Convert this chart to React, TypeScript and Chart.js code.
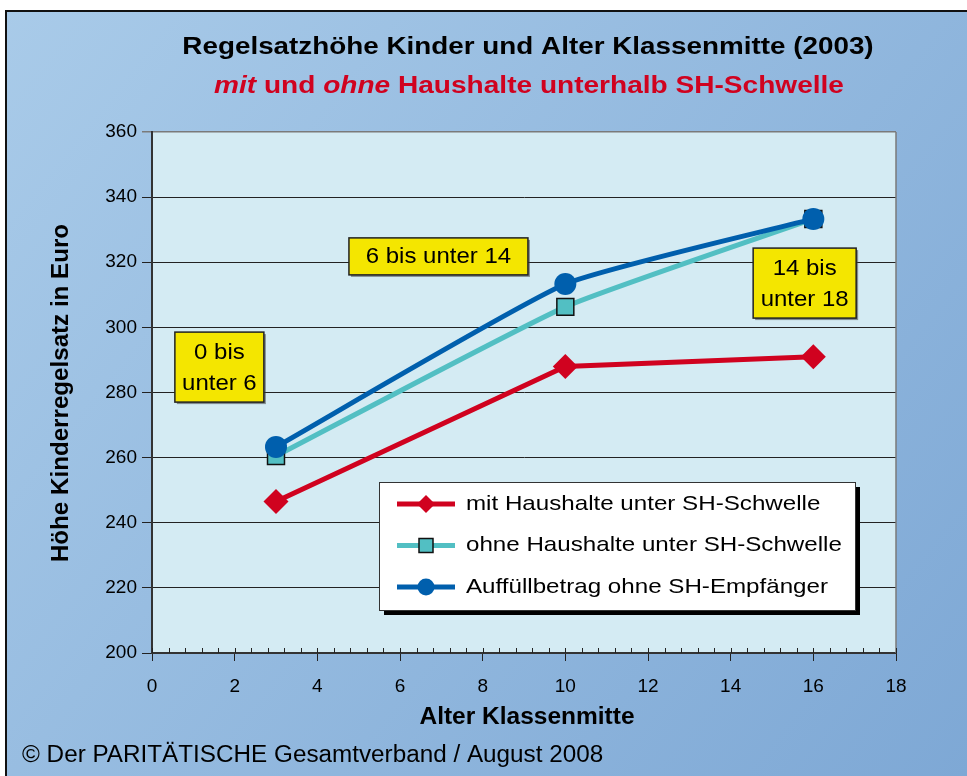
import React, { useEffect, useRef } from "react";
import { Chart, registerables } from "chart.js";

Chart.register(...registerables);

const xValues = [3, 10, 16];
const mitHaushalte = [246.5, 288.0, 291.0];
const ohneHaushalte = [260.5, 306.3, 333.3];
const auffuellbetrag = [263.3, 313.3, 333.3];

const seriesLabels = [
  "mit Haushalte unter SH-Schwelle",
  "ohne Haushalte unter SH-Schwelle",
  "Auffüllbetrag ohne SH-Empfänger",
];

const ageBoxes = [
  { lines: ["0 bis", "unter 6"], x: 1.63, y: 287.8, w: 89, h: 70 },
  { lines: ["6 bis unter 14"], x: 6.93, y: 321.8, w: 179, h: 37 },
  { lines: ["14 bis", "unter 18"], x: 15.79, y: 313.6, w: 103, h: 70 },
];

const FONT = '"Liberation Sans", Arial, sans-serif';
const RED = "#d0021f";
const TEAL = "#52bfc3";
const BLUE = "#005fad";

function sText(ctx: CanvasRenderingContext2D, text: string, x: number, y: number, font: string, sx: number, align: CanvasTextAlign) {
  ctx.save();
  ctx.font = font;
  ctx.translate(x, y);
  ctx.scale(sx, 1);
  ctx.textAlign = align;
  ctx.fillText(text, 0, 0);
  ctx.restore();
}

function drawMarker(ctx: CanvasRenderingContext2D, kind: string, x: number, y: number, r: number, fill: string) {
  ctx.save();
  ctx.beginPath();
  if (kind === "diamond") {
    ctx.moveTo(x - r, y);
    ctx.lineTo(x, y - r);
    ctx.lineTo(x + r, y);
    ctx.lineTo(x, y + r);
    ctx.closePath();
    ctx.fillStyle = fill;
    ctx.fill();
  } else if (kind === "square") {
    ctx.rect(x - r, y - r, 2 * r, 2 * r);
    ctx.fillStyle = fill;
    ctx.fill();
    ctx.lineWidth = 1.5;
    ctx.strokeStyle = "#111";
    ctx.stroke();
  } else {
    ctx.arc(x, y, r, 0, Math.PI * 2);
    ctx.fillStyle = fill;
    ctx.fill();
  }
  ctx.restore();
}

const decorPlugin = {
  id: "decor",
  beforeDraw(chart: any) {
    const { ctx, chartArea } = chart;
    const W = chart.width;
    const H = chart.height;
    ctx.save();
    ctx.fillStyle = "#ffffff";
    ctx.fillRect(0, 0, W, H);
    const g = ctx.createLinearGradient(0, 0, W, H);
    g.addColorStop(0, "#a9cbe9");
    g.addColorStop(1, "#7ea8d5");
    ctx.fillStyle = g;
    ctx.fillRect(6, 11, W - 6, H - 11);
    ctx.strokeStyle = "#111";
    ctx.lineWidth = 2;
    ctx.beginPath();
    ctx.moveTo(6, H);
    ctx.lineTo(6, 11);
    ctx.lineTo(W, 11);
    ctx.stroke();
    ctx.fillStyle = "#d4ebf3";
    ctx.fillRect(chartArea.left, chartArea.top, chartArea.right - chartArea.left, chartArea.bottom - chartArea.top);
    ctx.restore();
  },
  beforeDatasetsDraw(chart: any) {
    const { ctx, chartArea } = chart;
    const xs = chart.scales.x;
    ctx.save();
    ctx.strokeStyle = "#7a7a7a";
    ctx.lineWidth = 1.5;
    ctx.beginPath();
    ctx.moveTo(chartArea.right, chartArea.top);
    ctx.lineTo(chartArea.right, chartArea.bottom);
    ctx.stroke();
    ctx.strokeStyle = "#222";
    ctx.lineWidth = 1;
    ctx.beginPath();
    for (let k = 0; k <= 45; k++) {
      const px = Math.round(xs.getPixelForValue(k * 0.4)) + 0.5;
      ctx.moveTo(px, chartArea.bottom);
      ctx.lineTo(px, chartArea.bottom - 5);
    }
    ctx.stroke();
    ctx.restore();
  },
  afterDraw(chart: any) {
    const { ctx, chartArea } = chart;
    const xs = chart.scales.x;
    const ys = chart.scales.y;
    ctx.save();
    ctx.textBaseline = "middle";
    ctx.fillStyle = "#000";
    sText(ctx, "Regelsatzhöhe Kinder und Alter Klassenmitte (2003)", 528, 48, `bold 23px ${FONT}`, 1.21, "center");
    const parts = [
      { t: "mit", f: `italic bold 23px ${FONT}` },
      { t: " und ", f: `bold 23px ${FONT}` },
      { t: "ohne", f: `italic bold 23px ${FONT}` },
      { t: " Haushalte unterhalb SH-Schwelle", f: `bold 23px ${FONT}` },
    ];
    const subSx = 1.22;
    let total = 0;
    for (const p of parts) {
      ctx.font = p.f;
      total += ctx.measureText(p.t).width * subSx;
    }
    let cx = 529 - total / 2;
    ctx.fillStyle = "#d0021f";
    for (const p of parts) {
      sText(ctx, p.t, cx, 87, p.f, subSx, "left");
      ctx.font = p.f;
      cx += ctx.measureText(p.t).width * subSx;
    }
    ctx.fillStyle = "#000";
    sText(ctx, "Alter Klassenmitte", (chartArea.left + chartArea.right) / 2 + 3, 718, `bold 23px ${FONT}`, 1.065, "center");
    ctx.save();
    ctx.translate(62, 393);
    ctx.rotate(-Math.PI / 2);
    sText(ctx, "Höhe Kinderregelsatz in Euro", 0, 0, `bold 23px ${FONT}`, 1.05, "center");
    ctx.restore();
    sText(ctx, "© Der PARITÄTISCHE Gesamtverband / August 2008", 22, 756, `23px ${FONT}`, 1.055, "left");

    for (const b of ageBoxes) {
      const bx = xs.getPixelForValue(b.x);
      const by = ys.getPixelForValue(b.y);
      const l = bx - b.w / 2;
      const t = by - b.h / 2;
      ctx.fillStyle = "rgba(60,60,60,0.55)";
      ctx.fillRect(l + 2, t + 2, b.w, b.h);
      ctx.fillStyle = "#f4e600";
      ctx.fillRect(l, t, b.w, b.h);
      ctx.strokeStyle = "#222";
      ctx.lineWidth = 1.5;
      ctx.strokeRect(l, t, b.w, b.h);
      ctx.fillStyle = "#000";
      const n = b.lines.length;
      b.lines.forEach((ln, i) => {
        sText(ctx, ln, bx, by + (i - (n - 1) / 2) * 31 + 1, `22px ${FONT}`, 1.09, "center");
      });
    }

    const lx = 379, ly = 482, lw = 476, lh = 128;
    ctx.fillStyle = "#000";
    ctx.fillRect(lx + 5, ly + 5, lw, lh);
    ctx.fillStyle = "#fff";
    ctx.fillRect(lx, ly, lw, lh);
    ctx.strokeStyle = "#333";
    ctx.lineWidth = 1;
    ctx.strokeRect(lx + 0.5, ly + 0.5, lw, lh);
    const colors = [RED, TEAL, BLUE];
    const kinds = ["diamond", "square", "circle"];
    const radii = [9, 7, 8.5];
    seriesLabels.forEach((lab, i) => {
      const yy = ly + 22 + i * 41.5;
      ctx.strokeStyle = colors[i];
      ctx.lineWidth = 5;
      ctx.beginPath();
      ctx.moveTo(397, yy);
      ctx.lineTo(455, yy);
      ctx.stroke();
      drawMarker(ctx, kinds[i], 426, yy, radii[i], colors[i]);
      ctx.fillStyle = "#000";
      sText(ctx, lab, 466, yy, `21px ${FONT}`, 1.15, "left");
    });
    ctx.restore();
  },
};

export default function App() {
  const ref = useRef<HTMLCanvasElement | null>(null);
  useEffect(() => {
    document.body.style.margin = "0";
    const canvas = ref.current!;
    const mk = (arr: number[]) => xValues.map((x, i) => ({ x, y: arr[i] }));
    const chart = new Chart(canvas, {
      type: "line",
      data: {
        datasets: [
          {
            label: seriesLabels[0],
            data: mk(mitHaushalte),
            borderColor: RED,
            backgroundColor: RED,
            borderWidth: 5,
            pointStyle: "rectRot",
            pointRadius: 12.5,
            pointBorderWidth: 0,
            tension: 0,
            order: 2,
          },
          {
            label: seriesLabels[1],
            data: mk(ohneHaushalte),
            borderColor: TEAL,
            backgroundColor: TEAL,
            borderWidth: 5,
            pointStyle: "rect",
            pointRadius: 12,
            pointBorderColor: "#111",
            pointBorderWidth: 1.5,
            tension: 0.15,
            order: 1,
          },
          {
            label: seriesLabels[2],
            data: mk(auffuellbetrag),
            borderColor: BLUE,
            backgroundColor: BLUE,
            borderWidth: 5,
            pointStyle: "circle",
            pointRadius: 11,
            pointBorderWidth: 0,
            tension: 0.15,
            order: 0,
          },
        ],
      },
      options: {
        responsive: false,
        animation: false,
        layout: { padding: { left: 92, top: 132, right: 71, bottom: 83 } },
        plugins: { legend: { display: false }, tooltip: { enabled: false }, title: { display: false } },
        scales: {
          x: {
            type: "linear",
            min: 0,
            max: 18,
            afterFit: (s: any) => { s.height = 40; },
            ticks: { stepSize: 2, color: "#000", font: { family: FONT, size: 19 }, padding: 14, maxRotation: 0, autoSkip: false },
            grid: { drawOnChartArea: false, drawTicks: true, tickLength: 8, color: "#222", lineWidth: 1 },
            border: { color: "#333", width: 2 },
          },
          y: {
            type: "linear",
            min: 200,
            max: 360,
            afterFit: (s: any) => { s.width = 60; },
            ticks: { stepSize: 20, color: "#000", font: { family: FONT, size: 19 }, padding: 5 },
            grid: {
              color: (c: any) => (c.tick && c.tick.value === 360 ? "#7a7a7a" : "#222"),
              lineWidth: (c: any) => (c.tick && c.tick.value === 360 ? 1.5 : 1),
              drawTicks: true,
              tickLength: 10,
            },
            border: { color: "#333", width: 2 },
          },
        },
      },
      plugins: [decorPlugin],
    });
    return () => chart.destroy();
  }, []);
  return (
    <div style={{ width: 967, height: 776, position: "relative" }}>
      <canvas ref={ref} width={967} height={776} style={{ display: "block" }} />
    </div>
  );
}
